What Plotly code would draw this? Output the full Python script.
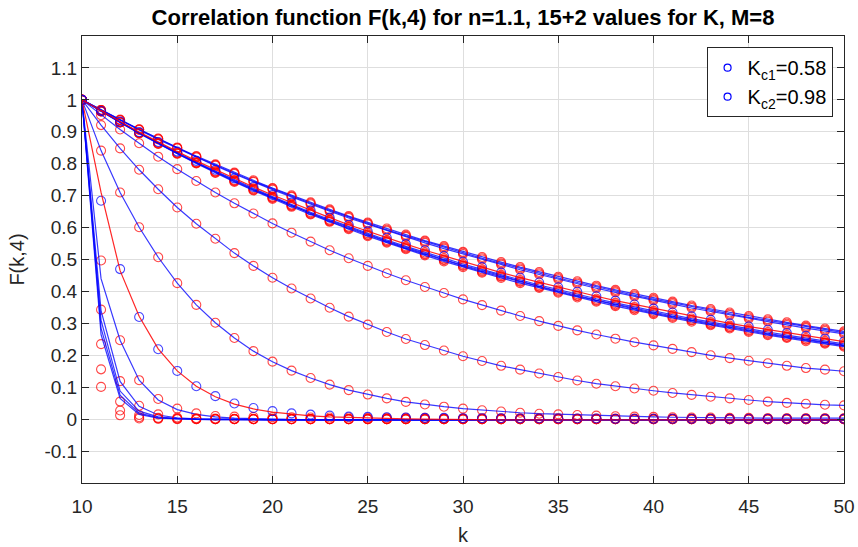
import plotly.graph_objects as go

k_values = list(range(10, 51))

# ---- 15 regular K values: measured F(k,4) (red circles) ----
F_u1 = [1.000, 0.968, 0.938, 0.908, 0.879, 0.851, 0.824, 0.798, 0.772, 0.748,
        0.724, 0.701, 0.679, 0.657, 0.636, 0.616, 0.597, 0.578, 0.559, 0.542,
        0.524, 0.508, 0.492, 0.476, 0.461, 0.446, 0.432, 0.418, 0.405, 0.392,
        0.380, 0.368, 0.356, 0.345, 0.334, 0.323, 0.313, 0.303, 0.293, 0.284, 0.275]
F_u2 = [1.000, 0.968, 0.937, 0.907, 0.878, 0.849, 0.822, 0.796, 0.770, 0.745,
        0.722, 0.698, 0.676, 0.654, 0.633, 0.613, 0.593, 0.574, 0.556, 0.538,
        0.521, 0.504, 0.488, 0.472, 0.457, 0.442, 0.428, 0.414, 0.401, 0.388,
        0.376, 0.364, 0.352, 0.341, 0.330, 0.319, 0.309, 0.299, 0.289, 0.280, 0.271]
F_u3 = [1.000, 0.968, 0.936, 0.906, 0.876, 0.848, 0.820, 0.794, 0.768, 0.743,
        0.719, 0.696, 0.673, 0.651, 0.630, 0.610, 0.590, 0.571, 0.552, 0.534,
        0.517, 0.500, 0.484, 0.468, 0.453, 0.438, 0.424, 0.410, 0.397, 0.384,
        0.372, 0.360, 0.348, 0.337, 0.326, 0.315, 0.305, 0.295, 0.285, 0.276, 0.267]
F_l1 = [1.000, 0.965, 0.930, 0.897, 0.866, 0.835, 0.805, 0.777, 0.749, 0.723,
        0.697, 0.672, 0.648, 0.625, 0.603, 0.582, 0.561, 0.541, 0.522, 0.504,
        0.486, 0.469, 0.452, 0.436, 0.420, 0.406, 0.391, 0.377, 0.364, 0.351,
        0.339, 0.327, 0.315, 0.304, 0.293, 0.283, 0.273, 0.263, 0.254, 0.245, 0.236]
F_l2 = [1.000, 0.964, 0.930, 0.896, 0.864, 0.833, 0.803, 0.775, 0.747, 0.720,
        0.694, 0.669, 0.645, 0.622, 0.600, 0.578, 0.558, 0.538, 0.518, 0.500,
        0.482, 0.465, 0.448, 0.432, 0.416, 0.402, 0.387, 0.373, 0.360, 0.347,
        0.335, 0.323, 0.311, 0.300, 0.289, 0.279, 0.269, 0.259, 0.250, 0.241, 0.232]
F_l3 = [1.000, 0.964, 0.929, 0.896, 0.863, 0.832, 0.802, 0.773, 0.745, 0.718,
        0.693, 0.668, 0.643, 0.620, 0.598, 0.576, 0.556, 0.535, 0.516, 0.498,
        0.480, 0.462, 0.446, 0.430, 0.414, 0.399, 0.385, 0.371, 0.357, 0.345,
        0.332, 0.320, 0.309, 0.297, 0.287, 0.276, 0.266, 0.257, 0.248, 0.239, 0.230]
F_l4 = [1.000, 0.964, 0.929, 0.895, 0.862, 0.831, 0.801, 0.771, 0.743, 0.716,
        0.690, 0.665, 0.641, 0.618, 0.595, 0.573, 0.553, 0.532, 0.513, 0.494,
        0.476, 0.459, 0.442, 0.426, 0.411, 0.396, 0.381, 0.368, 0.354, 0.341,
        0.329, 0.317, 0.305, 0.294, 0.284, 0.273, 0.263, 0.254, 0.244, 0.236, 0.227]
F_m1 = [1.000, 0.952, 0.907, 0.864, 0.822, 0.783, 0.746, 0.710, 0.676, 0.644,
        0.613, 0.584, 0.556, 0.529, 0.504, 0.480, 0.457, 0.435, 0.414, 0.395,
        0.375, 0.357, 0.340, 0.323, 0.307, 0.292, 0.278, 0.265, 0.252, 0.241,
        0.231, 0.220, 0.210, 0.200, 0.191, 0.183, 0.175, 0.167, 0.160, 0.155, 0.150]
F_m2 = [1.000, 0.921, 0.848, 0.781, 0.720, 0.663, 0.612, 0.565, 0.520, 0.480,
        0.443, 0.409, 0.378, 0.349, 0.321, 0.296, 0.273, 0.251, 0.232, 0.215,
        0.197, 0.182, 0.167, 0.155, 0.143, 0.132, 0.121, 0.111, 0.103, 0.096,
        0.089, 0.082, 0.076, 0.070, 0.065, 0.060, 0.055, 0.051, 0.048, 0.045, 0.043]
F_m3 = [1.000, 0.841, 0.710, 0.601, 0.507, 0.426, 0.358, 0.302, 0.254, 0.213,
        0.180, 0.152, 0.129, 0.108, 0.091, 0.077, 0.065, 0.054, 0.046, 0.039,
        0.033, 0.028, 0.024, 0.020, 0.017, 0.015, 0.013, 0.011, 0.009, 0.008,
        0.007, 0.006, 0.005, 0.005, 0.004, 0.004, 0.003, 0.003, 0.003, 0.003, 0.003]
F_x144 = [1.000, 0.497, 0.247, 0.122, 0.063, 0.033, 0.018, 0.010, 0.008, 0.007,
          0.006, 0.006, 0.005, 0.005, 0.005, 0.004, 0.004, 0.004, 0.004, 0.003,
          0.003, 0.003, 0.003, 0.003, 0.003, 0.003, 0.002, 0.002, 0.002, 0.002,
          0.002, 0.002, 0.002, 0.002, 0.002, 0.002, 0.002, 0.002, 0.002, 0.002, 0.002]
F_f1 = [1.000, 0.343, 0.119, 0.042, 0.015, 0.005, 0.003, 0.002, 0.001, 0.001,
        0.000, 0.000, 0.000, 0.000, 0.000, 0.000, 0.000, 0.000, 0.000, 0.000,
        0.000, 0.000, 0.000, 0.000, 0.000, 0.000, 0.000, 0.000, 0.000, 0.000,
        0.000, 0.000, 0.000, 0.000, 0.000, 0.000, 0.000, 0.000, 0.000, 0.000, 0.000]
F_f2 = [1.000, 0.235, 0.055, 0.013, 0.004, 0.002, 0.001, 0.000, 0.000, 0.000,
        0.000, 0.000, 0.000, 0.000, 0.000, 0.000, 0.000, 0.000, 0.000, 0.000,
        0.000, 0.000, 0.000, 0.000, 0.000, 0.000, 0.000, 0.000, 0.000, 0.000,
        0.000, 0.000, 0.000, 0.000, 0.000, 0.000, 0.000, 0.000, 0.000, 0.000, 0.000]
F_f3 = [1.000, 0.156, 0.027, 0.006, 0.002, 0.001, 0.000, 0.000, 0.000, 0.000,
        0.000, 0.000, 0.000, 0.000, 0.000, 0.000, 0.000, 0.000, 0.000, 0.000,
        0.000, 0.000, 0.000, 0.000, 0.000, 0.000, 0.000, 0.000, 0.000, 0.000,
        0.000, 0.000, 0.000, 0.000, 0.000, 0.000, 0.000, 0.000, 0.000, 0.000, 0.000]
F_f4 = [1.000, 0.101, 0.012, 0.002, 0.001, 0.000, 0.000, 0.000, 0.000, 0.000,
        0.000, 0.000, 0.000, 0.000, 0.000, 0.000, 0.000, 0.000, 0.000, 0.000,
        0.000, 0.000, 0.000, 0.000, 0.000, 0.000, 0.000, 0.000, 0.000, 0.000,
        0.000, 0.000, 0.000, 0.000, 0.000, 0.000, 0.000, 0.000, 0.000, 0.000, 0.000]

# ---- fitted curves (blue lines) where they differ from the data ----
fit_x144 = [1.000, 0.440, 0.247, 0.122, 0.060, 0.030, 0.015, 0.007, 0.003, 0.001,
            0.000, -0.001, -0.002, -0.002, -0.002, -0.002, -0.002, -0.002, -0.002, -0.002,
            -0.002, -0.002, -0.002, -0.002, -0.002, -0.002, -0.002, -0.002, -0.002, -0.002,
            -0.002, -0.002, -0.002, -0.002, -0.002, -0.002, -0.002, -0.002, -0.002, -0.002, -0.002]
fit_f1 = [1.000, 0.340, 0.118, 0.040, 0.013, 0.004, 0.001, 0.000, -0.001, -0.002,
          -0.002, -0.002, -0.002, -0.002, -0.002, -0.002, -0.002, -0.002, -0.002, -0.002,
          -0.002, -0.002, -0.002, -0.002, -0.002, -0.002, -0.002, -0.002, -0.002, -0.002,
          -0.002, -0.002, -0.002, -0.002, -0.002, -0.002, -0.002, -0.002, -0.002, -0.002, -0.002]
fit_f2 = [1.000, 0.310, 0.088, 0.025, 0.007, 0.002, 0.000, -0.001, -0.002, -0.002,
          -0.002, -0.002, -0.002, -0.002, -0.002, -0.002, -0.002, -0.002, -0.002, -0.002,
          -0.002, -0.002, -0.002, -0.002, -0.002, -0.002, -0.002, -0.002, -0.002, -0.002,
          -0.002, -0.002, -0.002, -0.002, -0.002, -0.002, -0.002, -0.002, -0.002, -0.002, -0.002]
fit_f3 = [1.000, 0.285, 0.075, 0.019, 0.005, 0.001, 0.000, -0.001, -0.002, -0.002,
          -0.002, -0.002, -0.002, -0.002, -0.002, -0.002, -0.002, -0.002, -0.002, -0.002,
          -0.002, -0.002, -0.002, -0.002, -0.002, -0.002, -0.002, -0.002, -0.002, -0.002,
          -0.002, -0.002, -0.002, -0.002, -0.002, -0.002, -0.002, -0.002, -0.002, -0.002, -0.002]
fit_f4 = [1.000, 0.265, 0.065, 0.015, 0.003, 0.000, -0.001, -0.002, -0.002, -0.002,
          -0.002, -0.002, -0.002, -0.002, -0.002, -0.002, -0.002, -0.002, -0.002, -0.002,
          -0.002, -0.002, -0.002, -0.002, -0.002, -0.002, -0.002, -0.002, -0.002, -0.002,
          -0.002, -0.002, -0.002, -0.002, -0.002, -0.002, -0.002, -0.002, -0.002, -0.002, -0.002]

# ---- the two critical values (blue circles, red lines) ----
F_kc1 = [1.000, 0.684, 0.470, 0.320, 0.219, 0.151, 0.103, 0.072, 0.049, 0.035,
         0.025, 0.018, 0.014, 0.011, 0.008, 0.007, 0.006, 0.005, 0.004, 0.004,
         0.003, 0.003, 0.003, 0.002, 0.002, 0.002, 0.002, 0.002, 0.001, 0.001,
         0.001, 0.001, 0.001, 0.001, 0.001, 0.001, 0.001, 0.001, 0.001, 0.001, 0.001]
fit_kc1 = [1.000, 0.710, 0.465, 0.322, 0.220, 0.151, 0.103, 0.070, 0.047, 0.032,
           0.022, 0.015, 0.010, 0.007, 0.005, 0.003, 0.002, 0.001, 0.000, -0.001,
           -0.002, -0.002, -0.002, -0.002, -0.002, -0.002, -0.002, -0.002, -0.002, -0.002,
           -0.002, -0.002, -0.002, -0.002, -0.002, -0.002, -0.002, -0.002, -0.002, -0.002, -0.002]
F_kc2 = [1.000, 0.965, 0.932, 0.899, 0.868, 0.838, 0.809, 0.781, 0.754, 0.727,
         0.702, 0.678, 0.654, 0.631, 0.609, 0.588, 0.568, 0.548, 0.529, 0.511,
         0.493, 0.476, 0.459, 0.443, 0.428, 0.413, 0.399, 0.385, 0.371, 0.359,
         0.346, 0.334, 0.322, 0.311, 0.300, 0.290, 0.280, 0.270, 0.261, 0.252, 0.243]

regular_data = [F_u1, F_u2, F_u3, F_l1, F_l2, F_l3, F_l4, F_m1, F_m2, F_m3,
                F_x144, F_f1, F_f2, F_f3, F_f4]
regular_fit = [F_u1, F_u2, F_u3, F_l1, F_l2, F_l3, F_l4, F_m1, F_m2, F_m3,
               fit_x144, fit_f1, fit_f2, fit_f3, fit_f4]
critical_data = [F_kc1, F_kc2]
critical_fit = [fit_kc1, F_kc2]
critical_labels = ["K<sub>c1</sub>=0.58", "K<sub>c2</sub>=0.98"]

x_ticks = [10, 15, 20, 25, 30, 35, 40, 45, 50]
y_ticks = [-0.1, 0, 0.1, 0.2, 0.3, 0.4, 0.5, 0.6, 0.7, 0.8, 0.9, 1.0, 1.1]
y_tick_text = ["-0.1", "0", "0.1", "0.2", "0.3", "0.4", "0.5", "0.6", "0.7",
               "0.8", "0.9", "1", "1.1"]

RED_MK = "rgba(255,0,0,0.72)"
BLUE_LN = "rgba(0,0,255,0.78)"
BLUE_MK = "rgba(0,0,255,0.72)"
RED_LN = "rgba(255,0,0,0.85)"
FONT = "Liberation Sans, Arial, Helvetica, sans-serif"
TXT = "#262626"

fig = go.Figure()

for data, fit in zip(regular_data, regular_fit):
    fig.add_trace(go.Scatter(x=k_values, y=data, mode="markers", showlegend=False,
                             marker=dict(symbol="circle-open", size=9, color=RED_MK,
                                         line=dict(width=1.1, color=RED_MK))))
    fig.add_trace(go.Scatter(x=k_values, y=fit, mode="lines", showlegend=False,
                             line=dict(color=BLUE_LN, width=1.2)))

for data, fit in zip(critical_data, critical_fit):
    fig.add_trace(go.Scatter(x=k_values, y=data, mode="markers", showlegend=False,
                             marker=dict(symbol="circle-open", size=9, color=BLUE_MK,
                                         line=dict(width=1.1, color=BLUE_MK))))
    fig.add_trace(go.Scatter(x=k_values, y=fit, mode="lines", showlegend=False,
                             line=dict(color=RED_LN, width=1.2)))

for label in critical_labels:
    fig.add_trace(go.Scatter(x=[None], y=[None], mode="markers", name=label,
                             marker=dict(symbol="circle-open", size=7, color="#0000ff",
                                         line=dict(width=1.2, color="#0000ff"))))

axis_common = dict(showline=True, linecolor=TXT, linewidth=1, mirror="allticks",
                   ticks="inside", ticklen=7, tickwidth=1, tickcolor=TXT,
                   showgrid=True, gridcolor="#dedede", gridwidth=1, zeroline=False,
                   automargin=False,
                   tickfont=dict(family=FONT, size=19, color=TXT))

fig.update_layout(
    width=858, height=547,
    margin=dict(l=82, r=14, t=36, b=64, autoexpand=False),
    paper_bgcolor="white", plot_bgcolor="white",
    title=dict(text="Correlation function F(k,4) for n=1.1, 15+2 values for K, M=8",
               x=0.5, xref="paper", y=1 - 17 / 547, yref="container",
               xanchor="center", yanchor="middle",
               font=dict(family=FONT, size=22, color="#000000", weight="bold")),
    xaxis=dict(range=[10, 50], tickvals=x_ticks, ticklabelstandoff=6,
               title=dict(text="k", font=dict(family=FONT, size=20, color=TXT), standoff=12),
               **axis_common),
    yaxis=dict(range=[-0.2, 1.2], tickvals=y_ticks, ticktext=y_tick_text,
               title=dict(text="F(k,4)", font=dict(family=FONT, size=20, color=TXT), standoff=14),
               **axis_common),
    legend=dict(x=0.985, y=0.975, xanchor="right", yanchor="top",
                bgcolor="white", bordercolor="#262626", borderwidth=1,
                font=dict(family=FONT, size=20, color="#000000"),
                itemsizing="trace", tracegroupgap=0),
)

fig.write_html("out.html")
